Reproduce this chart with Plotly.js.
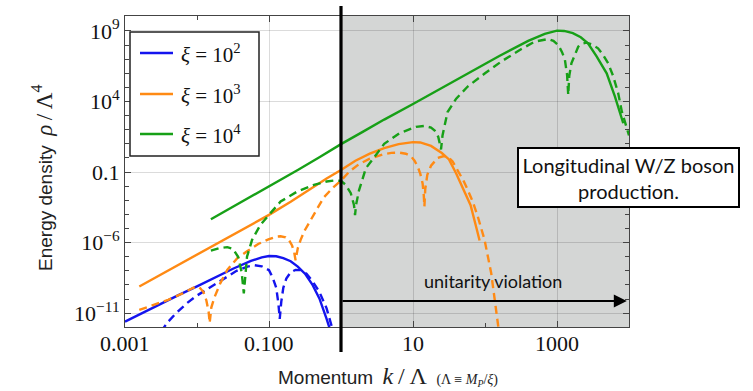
<!DOCTYPE html>
<html>
<head>
<meta charset="utf-8">
<script src="https://cdn.plot.ly/plotly-3.0.1.min.js"></script>
<style>
  html, body { margin: 0; padding: 0; background: #fff; }
  #chart { width: 753px; height: 391px; }
</style>
</head>
<body>
<div id="chart"></div>
<script>
// Energy density rho/Lambda^4 versus momentum k/Lambda, three values of xi.
// Solid and dashed curves for each xi.

// xi = 10^2
const blueSolidK   = [1e-3, 1.78e-3, 3.16e-3, 5.62e-3, 0.01, 0.0178, 0.0316, 0.0562, 0.0794, 0.1, 0.126, 0.158, 0.2, 0.251, 0.316, 0.398, 0.501, 0.631, 0.708];
const blueSolidRho = [2.5e-12, 1.12e-11, 5.0e-11, 2.0e-10, 7.9e-10, 3.5e-9, 1.41e-8, 5.0e-8, 8.9e-8, 1.12e-7, 1.07e-7, 7.9e-8, 4.8e-8, 2.0e-8, 6.3e-9, 1.12e-9, 1.12e-10, 4.0e-12, 6.3e-13];
const blueDashK    = [3.16e-3, 3.98e-3, 5.01e-3, 7.24e-3, 0.01, 0.0158, 0.0251, 0.0355, 0.0501, 0.0631, 0.0794, 0.1, 0.112, 0.126, 0.135, 0.141, 0.148, 0.158, 0.174, 0.2, 0.234, 0.275, 0.331, 0.398, 0.501, 0.631, 0.759];
const blueDashRho  = [5.0e-13, 2.5e-12, 8.9e-12, 5.1e-11, 1.78e-10, 7.9e-10, 3.5e-9, 1.0e-8, 2.0e-8, 2.5e-8, 2.1e-8, 1.12e-8, 3.5e-9, 6.3e-10, 5.0e-11, 4.0e-12, 6.3e-11, 6.3e-10, 2.8e-9, 7.9e-9, 1.17e-8, 1.12e-8, 6.3e-9, 2.0e-9, 3.2e-10, 2.2e-11, 7.9e-13];

// xi = 10^3
const orangeSolidK   = [1.58e-3, 3.98e-3, 0.01, 0.0251, 0.0501, 0.1, 0.2, 0.398, 0.631, 1, 1.585, 2.51, 3.98, 6.31, 10, 12.6, 17.8, 25.1, 31.6, 39.8, 50.1, 63.1, 75.9, 84.1];
const orangeSolidRho = [7.8e-10, 1.05e-8, 1.41e-7, 1.9e-6, 1.32e-5, 9.3e-5, 7.9e-4, 7.9e-3, 0.0355, 0.141, 0.631, 2.0, 4.9, 9.5, 13.2, 12.6, 7.1, 2.24, 0.79, 0.079, 6.3e-3, 4.5e-4, 1.12e-5, 1.41e-6];
const orangeDashK    = [1.58e-3, 2.51e-3, 3.98e-3, 6.31e-3, 8.91e-3, 0.0107, 0.0123, 0.0135, 0.0145, 0.0150, 0.0158, 0.0174, 0.0191, 0.0211, 0.0263, 0.0363, 0.0501, 0.0708, 0.1, 0.126, 0.145, 0.170, 0.191, 0.209, 0.224, 0.234, 0.251, 0.275, 0.316, 0.380, 0.468, 0.575, 0.759, 1, 1.318, 1.778, 2.512, 3.78, 5.01, 6.46, 7.94, 9.38, 10.5, 11.6, 12.6, 13.6, 14.1, 14.4, 14.8, 15.8, 17.8, 20.0, 22.0, 26.3, 30.2, 35.5, 41.7, 50.1, 57.5, 67.6, 79.4, 98.6, 122, 151, 158];
const orangeDashRho  = [1.70e-11, 3.98e-11, 8.9e-11, 2.51e-10, 6.31e-10, 7.08e-10, 3.16e-10, 7.94e-11, 1.26e-11, 2.0e-12, 2.51e-11, 1.26e-10, 4.47e-10, 1.35e-9, 1.17e-8, 7.94e-8, 2.51e-7, 7.94e-7, 1.78e-6, 2.63e-6, 2.82e-6, 2.40e-6, 1.41e-6, 6.31e-7, 2.0e-7, 5.62e-8, 3.98e-7, 1.58e-6, 7.94e-6, 4.07e-5, 3.16e-4, 1.58e-3, 7.08e-3, 0.0251, 0.112, 0.363, 0.891, 1.78, 2.29, 2.40, 2.0, 1.32, 0.631, 0.245, 0.0794, 0.0158, 2.51e-3, 3.55e-4, 6.31e-3, 0.0631, 0.282, 0.631, 1.0, 1.32, 1.26, 0.562, 0.145, 0.0251, 5.5e-3, 7.94e-4, 7.08e-5, 1.55e-6, 6.76e-9, 1.12e-12, 3.16e-13];

// xi = 10^4
const greenSolidK   = [0.0156, 0.0398, 0.1, 0.251, 0.501, 1, 2.0, 3.98, 10, 20.0, 57.5, 158, 398, 676, 1000, 1259, 1660, 2138, 2692, 3548, 4898, 6383, 8318];
const greenSolidRho = [4.57e-5, 6.76e-4, 9.33e-3, 0.141, 1.12, 9.55, 70.8, 525, 6610, 4.79e4, 1.0e6, 1.66e7, 2.0e8, 6.31e8, 1.05e9, 1.0e9, 6.92e8, 3.55e8, 1.35e8, 1.58e7, 1.0e6, 2.24e4, 288];
const greenDashK    = [0.0156, 0.0200, 0.0263, 0.0316, 0.0372, 0.0417, 0.0447, 0.0468, 0.0495, 0.0582, 0.0759, 0.1, 0.145, 0.247, 0.421, 0.631, 0.8, 1, 1.164, 1.368, 1.514, 1.567, 1.622, 1.778, 2.0, 2.213, 2.95, 3.98, 6.46, 8.41, 11.0, 14.4, 17.8, 20.0, 22.4, 23.7, 24.5, 25.7, 30.2, 39.8, 57.5, 100, 168, 316, 490, 753, 891, 1040, 1175, 1288, 1380, 1432, 1479, 1585, 1778, 1977, 2239, 2570, 3020, 3715, 4365, 5129, 6026, 7079, 7943, 8913, 10000];
const greenDashRho  = [2.69e-7, 3.98e-7, 4.79e-7, 3.55e-7, 1.0e-7, 7.94e-9, 2.51e-10, 5.01e-9, 1.0e-7, 1.58e-6, 1.78e-5, 9.33e-5, 8.13e-4, 4.17e-3, 0.0123, 0.0214, 0.0251, 0.024, 0.0123, 3.16e-3, 4.68e-4, 8.91e-5, 5.01e-4, 5.01e-3, 0.0398, 0.186, 1.26, 10, 56.2, 100, 158, 186, 141, 89.1, 31.6, 8.91, 3.98, 39.8, 1780, 1.58e4, 1.15e5, 1.0e6, 6.76e6, 5.01e7, 1.74e8, 2.69e8, 2.0e8, 1.0e8, 3.16e7, 8.91e6, 7.94e5, 2.95e4, 6.31e5, 5.13e6, 2.51e7, 7.76e7, 1.26e8, 1.48e8, 1.12e8, 5.89e7, 2.0e7, 5.13e6, 6.31e5, 3.89e4, 2000, 251, 39.8];

const seriesColors = ['#1414ee', '#ff8a14', '#17a017'];
const legendLabels = ['<i>ξ</i> = 10<sup>2</sup>', '<i>ξ</i> = 10<sup>3</sup>', '<i>ξ</i> = 10<sup>4</sup>'];

const xTickVals = [0.001, 0.1, 10, 1000];
const xTickText = ['0.001', '0.100', '10', '1000'];
const xMinorVals = [0.01, 1, 100];
const yTickVals = [1e9, 1e4, 0.1, 1e-6, 1e-11];
const yTickText = ['10<sup>9</sup>', '10<sup>4</sup>', '0.1', '10<sup>−6</sup>', '10<sup>−11</sup>'];
const yMinorVals = [1e10, 1e8, 1e7, 1e6, 1e5, 1e3, 1e2, 1e1, 1, 1e-2, 1e-3, 1e-4, 1e-5, 1e-7, 1e-8, 1e-9, 1e-10, 1e-12];

const unitarityScale = 1;          // k/Lambda where unitarity is violated
const X_RANGE = [-3, 4];
const Y_RANGE = [-11.98, 10.06];

const serif = 'Liberation Serif, Times New Roman, serif';
const sans = 'Liberation Sans, Arial, sans-serif';
const geo = 'Lato, Open Sans, sans-serif';

function xPaper(v) { return (Math.log10(v) - X_RANGE[0]) / (X_RANGE[1] - X_RANGE[0]); }

function line(k, rho, color, dashed) {
  return {
    x: k, y: rho, type: 'scatter', mode: 'lines', showlegend: false, hoverinfo: 'skip',
    line: { color: color, width: 2.4, dash: dashed ? '8px,5px' : 'solid' }
  };
}

const traces = [
  line(blueSolidK, blueSolidRho, seriesColors[0], false),
  line(blueDashK, blueDashRho, seriesColors[0], true),
  line(orangeSolidK, orangeSolidRho, seriesColors[1], false),
  line(orangeDashK, orangeDashRho, seriesColors[1], true),
  line(greenSolidK, greenSolidRho, seriesColors[2], false),
  line(greenDashK, greenDashRho, seriesColors[2], true)
];

const plotW = 753 - 125 - 124;
const plotH = 391 - 16 - 64;
function px2paperX(px) { return (px - 125) / plotW; }
function px2paperY(py) { return (391 - 64 - py) / plotH; }

const xLine = xPaper(unitarityScale);

const shapes = [
  // shaded unitarity-violation region
  { type: 'rect', xref: 'paper', yref: 'paper', x0: xLine, x1: 1, y0: 0, y1: 1,
    fillcolor: '#d4d6d5', line: { width: 0 }, layer: 'below' },
  // k = Lambda boundary
  { type: 'line', xref: 'paper', yref: 'paper', x0: xLine, x1: xLine, y0: px2paperY(352), y1: px2paperY(6),
    line: { color: '#000', width: 3.2 }, layer: 'above' },
  // legend frame
  { type: 'rect', xref: 'paper', yref: 'paper', x0: px2paperX(130), x1: px2paperX(259), y0: px2paperY(156), y1: px2paperY(32),
    fillcolor: '#fff', line: { color: '#222', width: 1.5 }, layer: 'above' }
];

const legendY = [53, 94, 134];
legendLabels.forEach((lab, i) => {
  shapes.push({ type: 'line', xref: 'paper', yref: 'paper', x0: px2paperX(140), x1: px2paperX(173),
    y0: px2paperY(legendY[i]), y1: px2paperY(legendY[i]), line: { color: seriesColors[i], width: 2.4 }, layer: 'above' });
});

const annotations = legendLabels.map((lab, i) => ({
  xref: 'paper', yref: 'paper', x: px2paperX(179), y: px2paperY(legendY[i]),
  xanchor: 'left', yanchor: 'middle', showarrow: false, text: lab,
  font: { family: serif, size: 21, color: '#111' }
}));

// x tick labels, placed at the tick positions just under the frame
xTickVals.forEach((v, i) => {
  annotations.push({ xref: 'x', yref: 'paper', x: Math.log10(v), y: px2paperY(343),
    xanchor: 'center', yanchor: 'middle', showarrow: false, text: xTickText[i],
    font: { family: serif, size: 22, color: '#111' } });
});

annotations.push(
  // arrow along the violation region
  { xref: 'x', yref: 'y', axref: 'x', ayref: 'y',
    x: 3.97, y: -10.13, ax: Math.log10(unitarityScale), ay: -10.13,
    showarrow: true, arrowhead: 2, arrowsize: 1.3, arrowwidth: 2, arrowcolor: '#000', standoff: 0, text: '' },
  { xref: 'x', yref: 'y', x: 2.115, y: -8.71, showarrow: false, text: 'unitarity violation',
    font: { family: geo, size: 18, color: '#111' }, xanchor: 'center', yanchor: 'middle' },
  { xref: 'paper', yref: 'paper', x: px2paperX(628.5), y: px2paperY(177.5), xanchor: 'center', yanchor: 'middle',
    showarrow: false, text: 'Longitudinal W/Z boson<br>production.', align: 'center',
    font: { family: geo, size: 20, color: '#111' }, bgcolor: '#fff', bordercolor: '#000', borderwidth: 2,
    width: 215, height: 53, borderpad: 2 },
  // axis titles
  { xref: 'paper', yref: 'paper', x: px2paperX(42), y: px2paperY(178), textangle: -90, showarrow: false,
    xanchor: 'center', yanchor: 'middle',
    text: 'Energy density\u2002<span style="font-family:Liberation Serif;font-size:23px"><i>ρ</i>\u2009/\u2009Λ<sup>4</sup></span>',
    font: { family: sans, size: 19, color: '#222' } },
  { xref: 'paper', yref: 'paper', x: px2paperX(276), y: px2paperY(376), xanchor: 'left', yanchor: 'middle', showarrow: false,
    text: 'Momentum\u2002<span style="font-family:Liberation Serif;font-size:24px"><i>k</i>\u2009/\u2009Λ</span>\u2002<span style="font-family:Liberation Serif;font-size:14px">(Λ ≡ <i>M<sub>P</sub></i>/<i>ξ</i>)</span>',
    font: { family: sans, size: 19, color: '#222' } }
);

const axisCommon = {
  type: 'log', showline: true, linecolor: '#444', linewidth: 1, mirror: 'ticks',
  ticks: 'inside', ticklen: 6, tickcolor: '#444', tickwidth: 1,
  showgrid: true, gridcolor: 'rgba(0,0,0,0.14)', gridwidth: 1,
  zeroline: false, automargin: false, tickmode: 'array',
  tickfont: { family: serif, size: 22, color: '#111' }
};

const layout = {
  width: 753, height: 391,
  margin: { l: 125, r: 124, t: 16, b: 64 },
  paper_bgcolor: '#fff', plot_bgcolor: '#fff',
  showlegend: false,
  xaxis: Object.assign({}, axisCommon, {
    range: X_RANGE, tickvals: xTickVals, ticktext: xTickText, showticklabels: false,
    minor: { tickmode: 'array', tickvals: xMinorVals, ticks: 'inside', ticklen: 4, tickcolor: '#444', showgrid: false }
  }),
  yaxis: Object.assign({}, axisCommon, {
    range: Y_RANGE, tickvals: yTickVals, ticktext: yTickText,
    minor: { tickmode: 'array', tickvals: yMinorVals, ticks: 'inside', ticklen: 4, tickcolor: '#444', showgrid: false }
  }),
  shapes: shapes,
  annotations: annotations
};

Plotly.newPlot('chart', traces, layout, { staticPlot: true, displayModeBar: false });
</script>
</body>
</html>
